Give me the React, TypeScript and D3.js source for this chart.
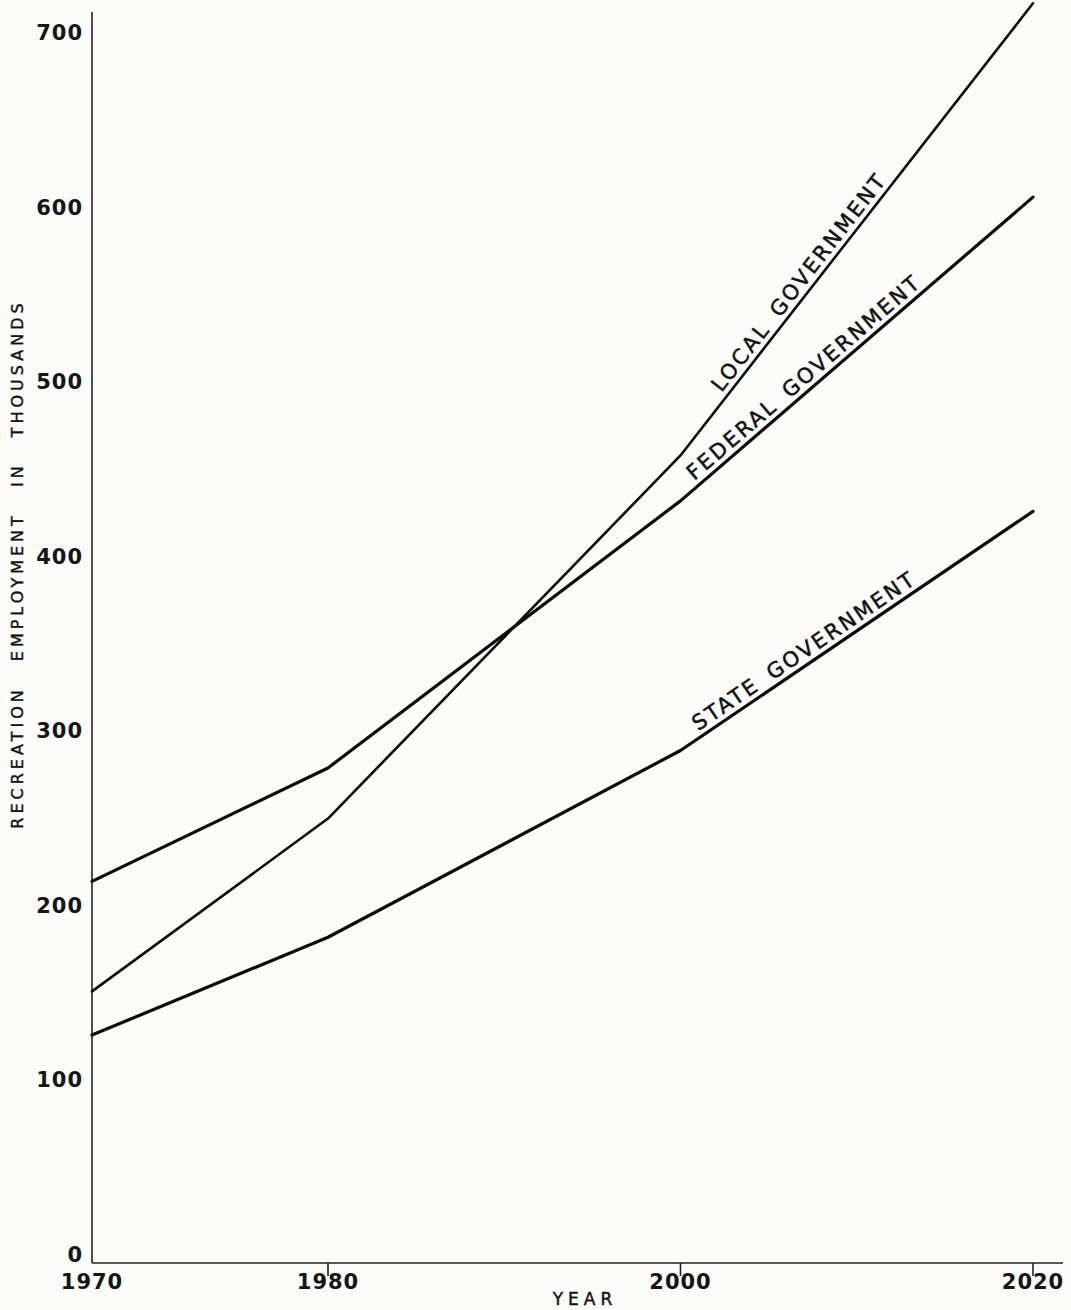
import React from 'react';
import * as d3 from 'd3';

// ---- data ----
const years = [1970, 1980, 2000, 2020];
const localGov = [151, 250, 458, 717];
const federalGov = [214, 279, 432, 606];
const stateGov = [126, 182, 289, 426];
const seriesNames = ['LOCAL GOVERNMENT', 'FEDERAL GOVERNMENT', 'STATE GOVERNMENT'];
const yTickValues = [0, 100, 200, 300, 400, 500, 600, 700];
const xTickLabels = ['1970', '1980', '2000', '2020'];
// year along the last segment where each in-line label begins
const labelStartYears = [2002.6, 2001.0, 2001.2];

const W = 1071;
const H = 1310;

export default function App() {
  // the hand-drawn year axis is not uniform: 1970-1980 is stretched
  const x = d3.scaleLinear().domain([1970, 1980, 2020]).range([92, 328, 1033]);
  const y = d3.scaleLinear().domain([0, 700]).range([1255, 33]);
  const axisLeft = x(1970);
  const axisBottom = 1263;
  const axisTop = 12;
  const axisRight = 1063;

  const series = [localGov, federalGov, stateGov];
  const widths = [2.6, 3.2, 3.2];
  const line = d3
    .line<[number, number]>()
    .x((d) => x(d[0]))
    .y((d) => y(d[1]));

  const font = "'DejaVu Sans', sans-serif";

  return (
    <div style={{ position: 'absolute', left: 0, top: 0 }}>
      <svg width={W} height={H} style={{ display: 'block', background: '#fbfbfa' }}>
        {/* axes */}
        <line x1={axisLeft} y1={axisTop} x2={axisLeft} y2={axisBottom} stroke="#222" strokeWidth={1.6} />
        <line x1={axisLeft} y1={axisBottom} x2={axisRight} y2={axisBottom} stroke="#222" strokeWidth={1.6} />
        {years.slice(1).map((yr) => (
          <line key={yr} x1={x(yr)} x2={x(yr)} y1={axisBottom} y2={axisBottom + 13} stroke="#222" strokeWidth={1.6} />
        ))}

        {/* y tick labels */}
        {yTickValues.map((v) => (
          <text
            key={v}
            x={axisLeft - 9}
            y={y(v)}
            textAnchor="end"
            dominantBaseline="central"
            fontFamily={font}
            fontWeight="bold"
            fontSize={21}
            letterSpacing={1}
            fill="#151515"
          >
            {v}
          </text>
        ))}

        {/* x tick labels */}
        {years.map((yr, i) => (
          <text
            key={yr}
            x={x(yr)}
            y={axisBottom + 26}
            textAnchor="middle"
            fontFamily={font}
            fontWeight="bold"
            fontSize={21}
            letterSpacing={1}
            fill="#151515"
          >
            {xTickLabels[i]}
          </text>
        ))}

        {/* axis titles */}
        <text
          x={585}
          y={1305}
          textAnchor="middle"
          fontFamily={font}
          fontSize={17}
          letterSpacing={5}
          fill="#111"
          stroke="#111"
          strokeWidth={0.4}
        >
          YEAR
        </text>
        <text
          transform={`translate(23, 564) rotate(-90)`}
          textAnchor="middle"
          fontFamily={font}
          fontSize={16}
          letterSpacing={4}
          wordSpacing={16}
          fill="#111"
          stroke="#111"
          strokeWidth={0.4}
        >
          RECREATION EMPLOYMENT IN THOUSANDS
        </text>

        {/* series lines */}
        {series.map((vals, i) => (
          <path
            key={seriesNames[i]}
            d={line(years.map((yr, j) => [yr, vals[j]]) as [number, number][]) || ''}
            fill="none"
            stroke="#0a0a0a"
            strokeWidth={widths[i]}
            strokeLinejoin="round"
            strokeLinecap="round"
          />
        ))}

        {/* in-line labels */}
        {series.map((vals, i) => {
          const n = years.length;
          const x1 = x(years[n - 2]);
          const y1 = y(vals[n - 2]);
          const x2 = x(years[n - 1]);
          const y2 = y(vals[n - 1]);
          const t = (labelStartYears[i] - years[n - 2]) / (years[n - 1] - years[n - 2]);
          const px = x1 + (x2 - x1) * t;
          const py = y1 + (y2 - y1) * t;
          const ang = (Math.atan2(y2 - y1, x2 - x1) * 180) / Math.PI;
          return (
            <text
              key={seriesNames[i]}
              transform={`translate(${px},${py}) rotate(${ang})`}
              y={-6}
              fontFamily={font}
              fontSize={21}
              letterSpacing={2.5}
              wordSpacing={5}
              fill="#111"
              stroke="#111"
              strokeWidth={0.5}
            >
              {seriesNames[i]}
            </text>
          );
        })}
      </svg>
    </div>
  );
}
